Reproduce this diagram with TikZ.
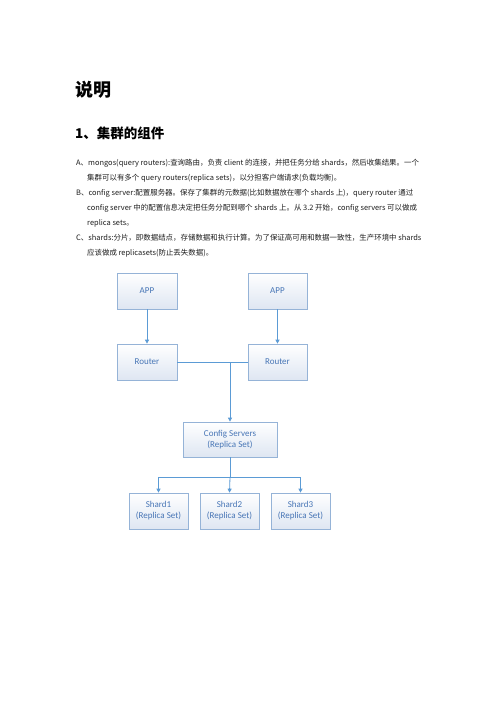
\documentclass[tikz,border=0pt]{standalone}
\usepackage{fontspec}
\setmainfont{Noto Sans CJK SC}
\newfontfamily\cjk{Noto Sans CJK SC}
\newfontfamily\boxfont{Carlito}
\usetikzlibrary{arrows.meta}
\definecolor{boxborder}{RGB}{149,179,215}
\definecolor{boxtext}{RGB}{72,118,182}
\definecolor{boxbot}{RGB}{222,230,242}
\definecolor{arrowc}{RGB}{91,155,213}
\definecolor{bodytext}{RGB}{30,30,30}
\begin{document}
\begin{tikzpicture}[x=1pt,y=-1pt,
  boxnode/.style={draw=boxborder,line width=0.7pt,top color=white,bottom color=boxbot,
    minimum width=59pt,minimum height=36pt,inner sep=1pt,align=center,
    text=boxtext,font=\boxfont\fontsize{9}{11}\selectfont},
  conn/.style={draw=arrowc,line width=0.8pt},
  arr/.style={conn,-{Triangle[length=4pt,width=4pt]}},
  bodyline/.style={anchor=base west,inner sep=0pt,text=bodytext,font=\cjk\fontsize{7.45}{9}\selectfont}]
\useasboundingbox[fill=white] (0,0) rectangle (496,702);
% headings
\node[anchor=base west,inner sep=0pt,font=\cjk\bfseries\fontsize{18}{20}\selectfont] (title) at (75,96.5) {说明};
\node[anchor=base west,inner sep=0pt,font=\cjk\bfseries\fontsize{13.5}{15}\selectfont] (sec) at (75,138) {1、集群的组件};
% body lines
\node[bodyline] (la1) at (76,165) {A、mongos(query routers):查询路由，负责 client 的连接，并把任务分给 shards，然后收集结果。一个};
\node[bodyline] (la2) at (87,180) {集群可以有多个 query routers(replica sets)，以分担客户端请求(负载均衡)。};
\node[bodyline] (lb1) at (76,195) {B、config server:配置服务器。保存了集群的元数据(比如数据放在哪个 shards 上)，query router 通过};
\node[bodyline] (lb2) at (87,210) {config server 中的配置信息决定把任务分配到哪个 shards 上。从 3.2 开始，config servers 可以做成};
\node[bodyline] (lb3) at (87,225) {replica sets。};
\node[bodyline] (lc1) at (76,240) {C、shards:分片，即数据结点，存储数据和执行计算。为了保证高可用和数据一致性，生产环境中 shards};
\node[bodyline] (lc2) at (87,255) {应该做成 replicasets(防止丢失数据)。};
% diagram
\node[boxnode,minimum width=60pt] (app1) at (147,291) {APP};
\node[boxnode] (app2) at (277.5,291) {APP};
\node[boxnode,minimum width=60pt] (router1) at (147,362) {Router};
\node[boxnode] (router2) at (277.5,362) {Router};
\node[boxnode,minimum width=94pt,minimum height=35pt] (config) at (230,439.5) {Config Servers\\(Replica Set)};
\node[boxnode] (shard1) at (158.5,511) {Shard1\\(Replica Set)};
\node[boxnode] (shard2) at (229.5,511) {Shard2\\(Replica Set)};
\node[boxnode] (shard3) at (300.5,511) {Shard3\\(Replica Set)};
\coordinate (j) at (230,362);
\coordinate (bus) at (230,477);
\draw[arr] (app1) -- (router1);
\draw[arr] (app2) -- (router2);
\draw[conn] (router1.east) -- (router2.west);
\draw[arr] (j) -- (config.north);
\draw[conn] (config.south) -- (bus);
\draw[arr] (bus) -| (shard1.north);
\draw[arr] (bus) -- (shard2.north);
\draw[arr] (bus) -| (shard3.north);
\end{tikzpicture}
\end{document}
